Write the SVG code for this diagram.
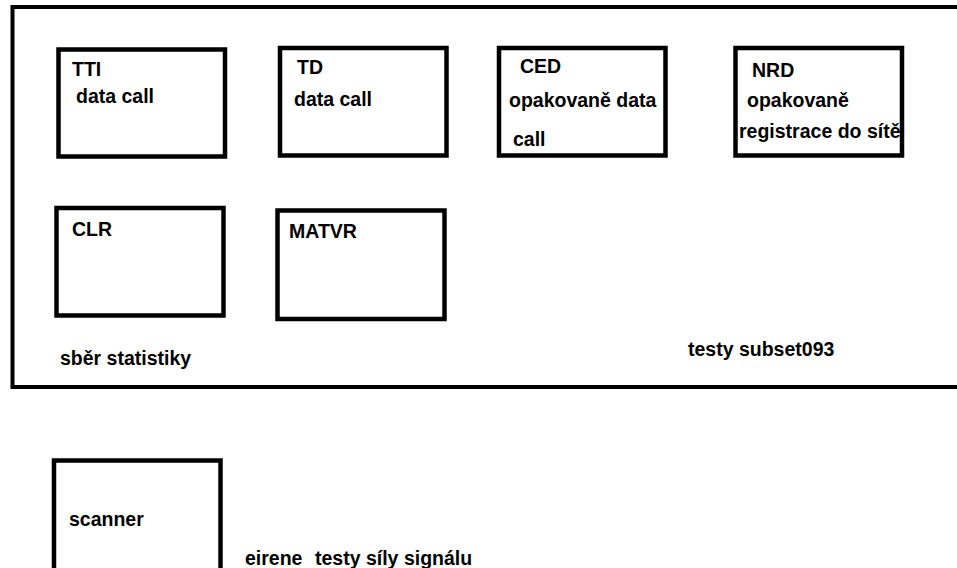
<svg xmlns="http://www.w3.org/2000/svg" width="957" height="568" viewBox="0 0 957 568">
<style>
.box{fill:none;stroke:#000;stroke-width:4.5}
.frame{fill:none;stroke:#000;stroke-width:4}
.t{font-family:"Liberation Sans",Arial,sans-serif;font-weight:bold;font-size:19.5px;fill:#000}
</style>
<rect width="957" height="568" fill="#fff"/>
<g id="frame">
<rect class="frame" x="12.5" y="7" width="960" height="380"/>
<text class="t" x="60" y="365">sběr statistiky</text>
<text class="t" x="688" y="356">testy subset093</text>
</g>
<g id="TTI">
<rect class="box" x="58.5" y="49.5" width="166.5" height="107"/>
<text class="t" x="72" y="76">TTI</text>
<text class="t" x="76" y="103">data call</text>
</g>
<g id="TD">
<rect class="box" x="280" y="48" width="166.5" height="107.5"/>
<text class="t" x="297" y="74">TD</text>
<text class="t" x="294" y="106">data call</text>
</g>
<g id="CED">
<rect class="box" x="499" y="48" width="166.5" height="107.5"/>
<text class="t" x="520" y="73">CED</text>
<text class="t" x="509" y="107">opakovaně data</text>
<text class="t" x="513" y="146">call</text>
</g>
<g id="NRD">
<rect class="box" x="735.5" y="48" width="166.5" height="107.5"/>
<text class="t" x="752" y="77">NRD</text>
<text class="t" x="747" y="107">opakovaně</text>
<text class="t" x="739" y="138">registrace do sítě</text>
</g>
<g id="CLR">
<rect class="box" x="56.5" y="208" width="167" height="107.5"/>
<text class="t" x="72" y="236">CLR</text>
</g>
<g id="MATVR">
<rect class="box" x="277.5" y="210.5" width="167" height="108.5"/>
<text class="t" x="289" y="238">MATVR</text>
</g>
<g id="scanner">
<rect class="box" x="54" y="460.5" width="166.5" height="130"/>
<text class="t" x="69" y="526">scanner</text>
</g>
<g id="eirene">
<text class="t" x="245" y="565">eirene<tspan x="315">testy síly signálu</tspan></text>
</g>
<g id="connectors"></g>
</svg>
